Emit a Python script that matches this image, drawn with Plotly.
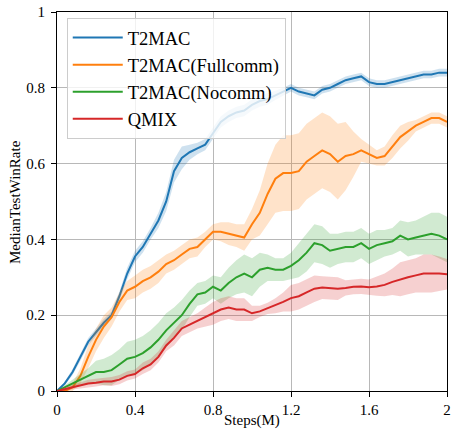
import plotly.graph_objects as go

steps = [round(i * 0.04, 2) for i in range(51)]

t2mac = [0.00, 0.02, 0.05, 0.09, 0.13, 0.155, 0.18, 0.20, 0.25, 0.31,
         0.355, 0.38, 0.415, 0.45, 0.50, 0.58, 0.615, 0.63, 0.64, 0.65,
         0.68, 0.71, 0.725, 0.735, 0.74, 0.755, 0.765, 0.77, 0.78, 0.79,
         0.80, 0.79, 0.785, 0.78, 0.795, 0.80, 0.81, 0.82, 0.825, 0.83,
         0.815, 0.81, 0.81, 0.815, 0.82, 0.825, 0.83, 0.835, 0.835, 0.84, 0.84]
t2mac_spread = [0.0, 0.005, 0.008, 0.01, 0.01, 0.01, 0.01, 0.01, 0.012, 0.015,
                0.015, 0.015, 0.015, 0.02, 0.025, 0.03, 0.03, 0.02, 0.015, 0.015,
                0.015, 0.015, 0.015, 0.015, 0.015, 0.015, 0.015, 0.015, 0.012, 0.01,
                0.01, 0.01, 0.01, 0.01, 0.01, 0.01, 0.01, 0.01, 0.01, 0.01,
                0.01, 0.01, 0.01, 0.01, 0.01, 0.01, 0.01, 0.01, 0.01, 0.01, 0.01]

fullcomm = [0.0, 0.0, 0.01, 0.04, 0.09, 0.135, 0.17, 0.195, 0.235, 0.265,
            0.275, 0.29, 0.30, 0.315, 0.335, 0.345, 0.36, 0.375, 0.38, 0.40,
            0.42, 0.42, 0.415, 0.41, 0.405, 0.44, 0.47, 0.52, 0.56, 0.575,
            0.575, 0.58, 0.605, 0.62, 0.635, 0.625, 0.605, 0.62, 0.625, 0.635,
            0.625, 0.615, 0.62, 0.645, 0.67, 0.685, 0.70, 0.71, 0.72, 0.72, 0.71]
fullcomm_spread = [0.0, 0.005, 0.01, 0.02, 0.03, 0.03, 0.03, 0.025, 0.025, 0.025,
                   0.03, 0.03, 0.03, 0.03, 0.025, 0.025, 0.025, 0.025, 0.025, 0.02,
                   0.02, 0.025, 0.03, 0.03, 0.035, 0.04, 0.06, 0.08, 0.09, 0.1,
                   0.1, 0.1, 0.1, 0.1, 0.1, 0.1, 0.1, 0.09, 0.06, 0.03,
                   0.025, 0.02, 0.025, 0.03, 0.03, 0.025, 0.015, 0.015, 0.015, 0.015, 0.015]

nocomm = [0.0, 0.01, 0.02, 0.03, 0.04, 0.05, 0.05, 0.055, 0.07, 0.085,
          0.09, 0.10, 0.115, 0.135, 0.16, 0.18, 0.20, 0.23, 0.255, 0.26,
          0.275, 0.265, 0.285, 0.30, 0.31, 0.30, 0.32, 0.325, 0.32, 0.32,
          0.33, 0.345, 0.365, 0.39, 0.385, 0.37, 0.375, 0.38, 0.38, 0.39,
          0.375, 0.385, 0.39, 0.395, 0.41, 0.40, 0.405, 0.41, 0.415, 0.41, 0.40]
nocomm_spread = [0.0, 0.005, 0.01, 0.015, 0.02, 0.03, 0.035, 0.04, 0.04, 0.045,
                 0.045, 0.045, 0.045, 0.045, 0.045, 0.04, 0.04, 0.035, 0.03, 0.03,
                 0.03, 0.035, 0.04, 0.045, 0.05, 0.05, 0.045, 0.035, 0.03, 0.03,
                 0.035, 0.045, 0.05, 0.05, 0.05, 0.045, 0.04, 0.04, 0.04, 0.04,
                 0.04, 0.04, 0.035, 0.035, 0.04, 0.045, 0.045, 0.05, 0.055, 0.06, 0.06]

qmix = [0.0, 0.005, 0.01, 0.015, 0.02, 0.022, 0.025, 0.025, 0.03, 0.04,
        0.045, 0.06, 0.07, 0.09, 0.12, 0.14, 0.165, 0.175, 0.185, 0.195,
        0.205, 0.215, 0.22, 0.215, 0.215, 0.205, 0.21, 0.218, 0.225, 0.235,
        0.245, 0.25, 0.26, 0.27, 0.273, 0.272, 0.27, 0.272, 0.275, 0.276,
        0.274, 0.276, 0.28, 0.288, 0.295, 0.30, 0.305, 0.31, 0.31, 0.31, 0.308]
qmix_spread = [0.0, 0.005, 0.006, 0.008, 0.01, 0.01, 0.01, 0.012, 0.012, 0.012,
               0.012, 0.015, 0.015, 0.015, 0.015, 0.02, 0.02, 0.02, 0.02, 0.025,
               0.03, 0.03, 0.03, 0.03, 0.03, 0.02, 0.015, 0.015, 0.02, 0.025,
               0.035, 0.035, 0.035, 0.035, 0.03, 0.03, 0.03, 0.02, 0.02, 0.02,
               0.02, 0.025, 0.03, 0.035, 0.045, 0.045, 0.045, 0.05, 0.05, 0.045, 0.04]

series_names = ["T2MAC", "T2MAC(Fullcomm)", "T2MAC(Nocomm)", "QMIX"]
series_vals = [t2mac, fullcomm, nocomm, qmix]
series_spread = [t2mac_spread, fullcomm_spread, nocomm_spread, qmix_spread]
colors = ["#1f77b4", "#ff7f0e", "#2ca02c", "#d62728"]
fills = ["rgba(31,119,180,0.22)", "rgba(255,127,14,0.22)",
         "rgba(44,160,44,0.22)", "rgba(214,39,40,0.22)"]

x_tickvals = [0, 0.4, 0.8, 1.2, 1.6, 2]
x_ticktext = ["0", "0.4", "0.8", "1.2", "1.6", "2"]
y_tickvals = [0, 0.2, 0.4, 0.6, 0.8, 1]
y_ticktext = ["0", "0.2", "0.4", "0.6", "0.8", "1"]
x_title = "Steps(M)"
y_title = "MedianTestWinRate"

fig = go.Figure()
for name, vals, spr, c, f in zip(series_names, series_vals, series_spread, colors, fills):
    hi = [v + s for v, s in zip(vals, spr)]
    lo = [max(0.0, v - s) for v, s in zip(vals, spr)]
    fig.add_trace(go.Scatter(x=steps + steps[::-1], y=hi + lo[::-1], fill="toself",
                             fillcolor=f, line=dict(width=0), mode="lines",
                             showlegend=False, hoverinfo="skip", legendgroup=name))
    fig.add_trace(go.Scatter(x=steps, y=vals, mode="lines", name=name, legendgroup=name,
                             line=dict(color=c, width=2)))

axis_common = dict(showline=True, linecolor="black", linewidth=1, mirror=True,
                   ticks="outside", ticklen=5, tickcolor="black",
                   showgrid=True, gridcolor="#b8b8b8", gridwidth=1.2,
                   zeroline=False, tickfont=dict(size=15, color="black"))

fig.update_layout(
    width=455, height=439,
    margin=dict(l=57, r=4, t=11, b=48),
    plot_bgcolor="white", paper_bgcolor="white",
    font=dict(family="Liberation Serif", size=15, color="black"),
    xaxis=dict(range=[0, 2], tickvals=x_tickvals, ticktext=x_ticktext, **axis_common),
    yaxis=dict(range=[0, 1], tickvals=y_tickvals, ticktext=y_ticktext,
               ticklabelstandoff=3, **axis_common),
    legend=dict(x=0.025, y=0.984, xanchor="left", yanchor="top",
                bgcolor="rgba(255,255,255,0.8)", bordercolor="#cccccc", borderwidth=1,
                font=dict(size=18.5, color="black"), tracegroupgap=0,
                traceorder="grouped", itemwidth=50),
    showlegend=True,
    annotations=[
        dict(text=x_title, xref="paper", yref="paper", x=0.5, y=-0.077,
             xanchor="center", yanchor="middle", showarrow=False, font=dict(size=15)),
        dict(text=y_title, xref="paper", yref="paper", x=-0.109, y=0.5,
             xanchor="center", yanchor="middle", textangle=-90, showarrow=False,
             font=dict(size=15)),
    ],
)

fig.write_html("out.html", post_script="document.body.style.margin='0';",
               config={"displayModeBar": False})
